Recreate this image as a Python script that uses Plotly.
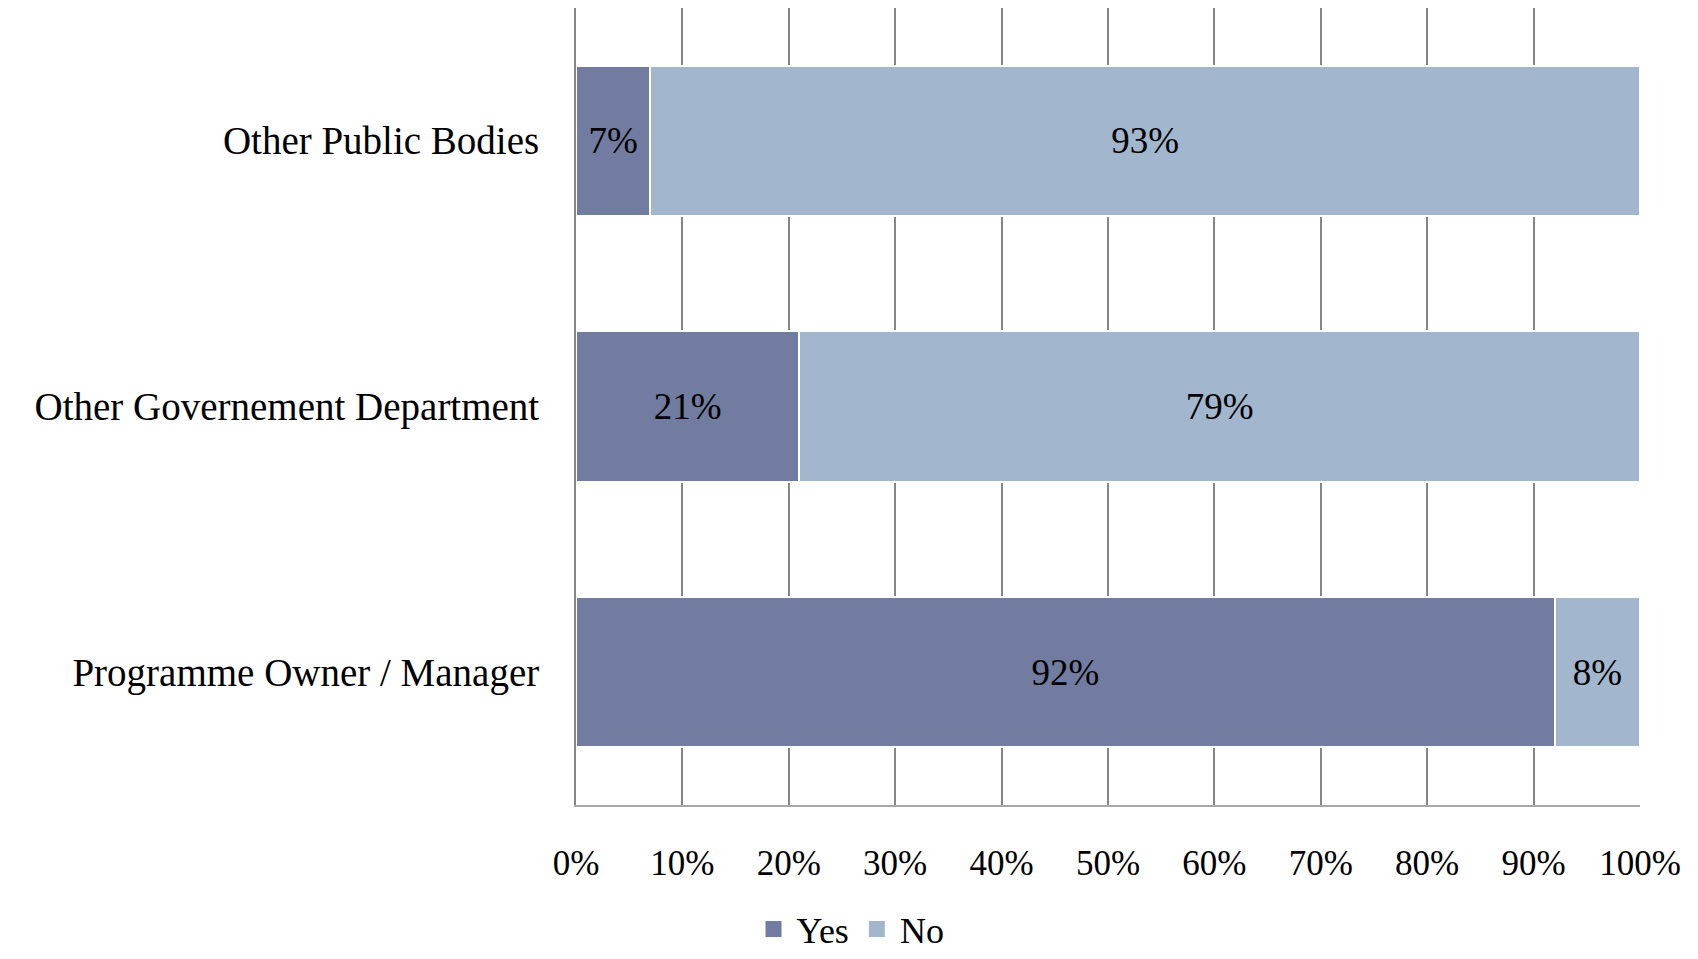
import plotly.graph_objects as go

categories = ["Programme Owner / Manager", "Other Governement Department", "Other Public Bodies"]
yes_vals = [92, 21, 7]
no_vals = [8, 79, 93]
tick_vals = [0, 10, 20, 30, 40, 50, 60, 70, 80, 90, 100]
tick_text = ["0%", "10%", "20%", "30%", "40%", "50%", "60%", "70%", "80%", "90%", "100%"]
series_names = ["Yes", "No"]

FONT = "Liberation Serif"
COLORS = {"Yes": "#727BA0", "No": "#A2B7CE"}

fig = go.Figure()
for name, vals in zip(series_names, [yes_vals, no_vals]):
    fig.add_trace(go.Bar(
        name=name, y=categories, x=vals, orientation="h",
        marker=dict(color=COLORS[name], line=dict(color="white", width=2)),
        text=[f"{v}%" for v in vals], textposition="inside",
        insidetextanchor="middle", constraintext="none",
        textfont=dict(family=FONT, size=37, color="black"),
        showlegend=False,
    ))
# legend entries with larger square swatches
for name in series_names:
    fig.add_trace(go.Scatter(
        name=name, x=[None], y=[None], mode="markers",
        marker=dict(symbol="square", size=18, color=COLORS[name]),
        showlegend=True,
    ))

fig.update_layout(
    width=1690, height=951,
    barmode="stack", bargap=0.435,
    plot_bgcolor="white", paper_bgcolor="white",
    margin=dict(l=568, r=58, t=0, b=154),
    font=dict(family=FONT, size=36, color="black"),
    legend=dict(orientation="h", x=0.164, xanchor="left",
                yref="container", y=-0.011, yanchor="bottom",
                font=dict(family=FONT, size=36), itemwidth=36,
                traceorder="normal", tracegroupgap=0),
    showlegend=True,
)
fig.update_xaxes(
    range=[0, 100], tickvals=tick_vals, ticktext=tick_text,
    showgrid=True, gridcolor="#868686", gridwidth=2,
    showline=True, linecolor="#A8A8A8", linewidth=2, mirror=False,
    zeroline=False, ticks="", ticklabelstandoff=26,
    tickfont=dict(family=FONT, size=35, color="black"),
)
fig.update_yaxes(
    categoryorder="array", categoryarray=categories,
    showgrid=False, showline=True, linecolor="#868686", linewidth=2,
    ticks="", ticklabelstandoff=27,
    tickfont=dict(family=FONT, size=39, color="black"),
)

fig.write_html("out.html")
